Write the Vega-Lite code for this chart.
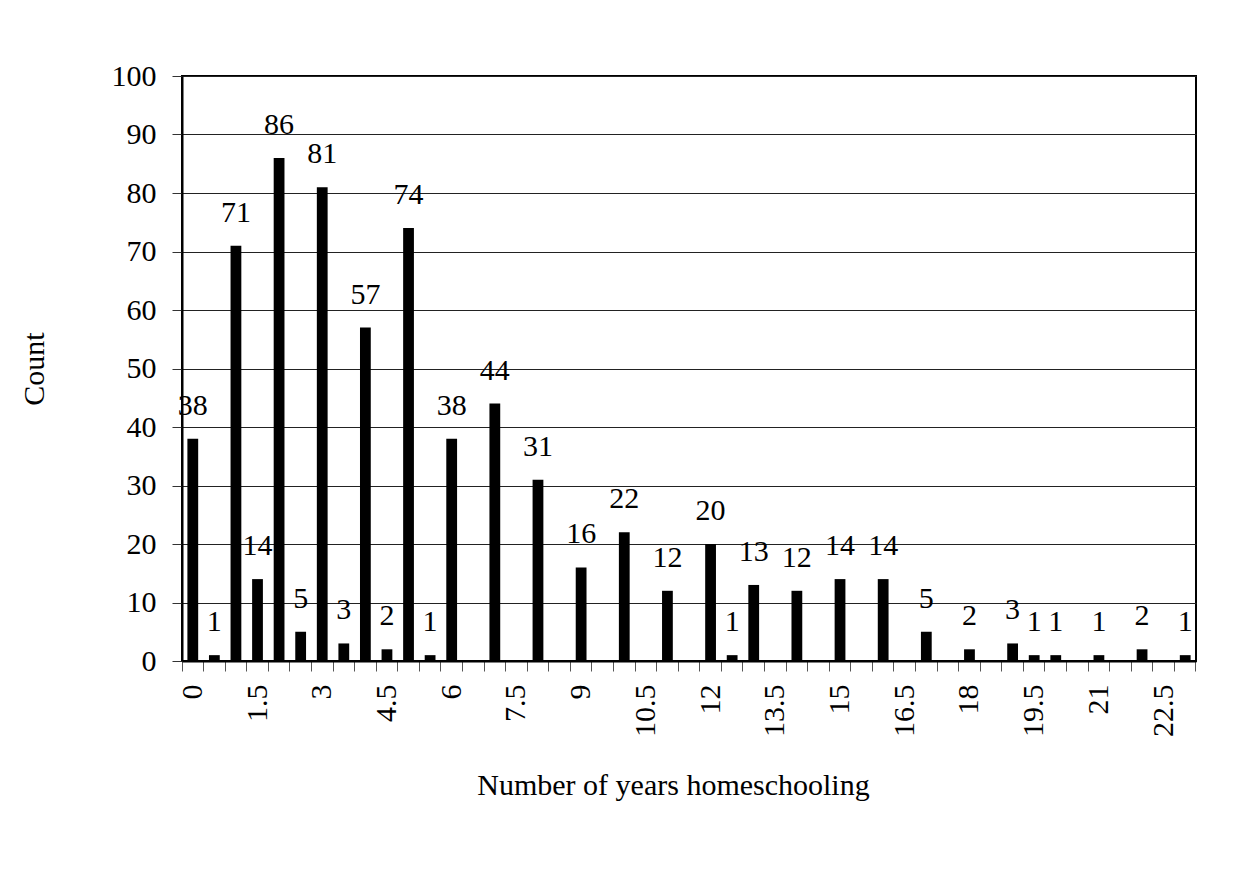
{
  "$schema": "https://vega.github.io/schema/vega-lite/v6.json",
  "width": 1014,
  "height": 585,
  "autosize": {"type": "none"},
  "padding": {"left": 182, "top": 76, "right": 61, "bottom": 223},
  "background": "white",
  "config": {
    "view": {"stroke": "black", "strokeWidth": 2},
    "font": "Liberation Serif",
    "axis": {
      "labelFont": "Liberation Serif",
      "titleFont": "Liberation Serif",
      "labelFontSize": 30,
      "titleFontSize": 30,
      "labelColor": "black",
      "titleColor": "black",
      "titleFontWeight": "normal"
    }
  },
  "data": {
    "values": [
      {"years": 0, "count": 38},
      {"years": 0.5, "count": 1},
      {"years": 1, "count": 71},
      {"years": 1.5, "count": 14},
      {"years": 2, "count": 86},
      {"years": 2.5, "count": 5},
      {"years": 3, "count": 81},
      {"years": 3.5, "count": 3},
      {"years": 4, "count": 57},
      {"years": 4.5, "count": 2},
      {"years": 5, "count": 74},
      {"years": 5.5, "count": 1},
      {"years": 6, "count": 38},
      {"years": 7, "count": 44},
      {"years": 8, "count": 31},
      {"years": 9, "count": 16},
      {"years": 10, "count": 22},
      {"years": 11, "count": 12},
      {"years": 12, "count": 20},
      {"years": 12.5, "count": 1},
      {"years": 13, "count": 13},
      {"years": 14, "count": 12},
      {"years": 15, "count": 14},
      {"years": 16, "count": 14},
      {"years": 17, "count": 5},
      {"years": 18, "count": 2},
      {"years": 19, "count": 3},
      {"years": 19.5, "count": 1},
      {"years": 20, "count": 1},
      {"years": 21, "count": 1},
      {"years": 22, "count": 2},
      {"years": 23, "count": 1}
    ]
  },
  "encoding": {
    "x": {
      "field": "years",
      "type": "ordinal",
      "scale": {
        "domain": [0, 0.5, 1, 1.5, 2, 2.5, 3, 3.5, 4, 4.5, 5, 5.5, 6, 6.5, 7, 7.5, 8, 8.5, 9, 9.5, 10, 10.5, 11, 11.5, 12, 12.5, 13, 13.5, 14, 14.5, 15, 15.5, 16, 16.5, 17, 17.5, 18, 18.5, 19, 19.5, 20, 20.5, 21, 21.5, 22, 22.5, 23],
        "paddingInner": 0,
        "paddingOuter": 0
      },
      "axis": {
        "title": "Number of years homeschooling",
        "titlePadding": 34,
        "titleX": 491,
        "labelAngle": -90,
        "labelAlign": "right",
        "labelBaseline": "middle",
        "labelPadding": 13,
        "labelExpr": "datum.value % 1.5 === 0 ? datum.label : ''",
        "bandPosition": 1,
        "tickExtra": true,
        "tickSize": 10,
        "tickColor": "#555555",
        "tickWidth": 1,
        "domainColor": "black",
        "domainWidth": 2,
        "grid": false,
        "labelOverlap": false
      }
    },
    "y": {
      "field": "count",
      "type": "quantitative",
      "scale": {"domain": [0, 100], "nice": false},
      "axis": {
        "title": "Count",
        "titlePadding": 62,
        "values": [0, 10, 20, 30, 40, 50, 60, 70, 80, 90, 100],
        "grid": true,
        "gridColor": "#222222",
        "gridWidth": 1,
        "tickSize": 10,
        "tickColor": "#333333",
        "tickWidth": 1,
        "labelPadding": 16,
        "domainColor": "black",
        "domainWidth": 2
      }
    }
  },
  "layer": [
    {
      "mark": {"type": "bar", "color": "black", "width": {"band": 0.5}}
    },
    {
      "mark": {
        "type": "text",
        "font": "Liberation Serif",
        "fontSize": 30,
        "color": "black",
        "baseline": "middle",
        "dy": -33
      },
      "encoding": {"text": {"field": "count", "type": "quantitative"}}
    }
  ]
}
